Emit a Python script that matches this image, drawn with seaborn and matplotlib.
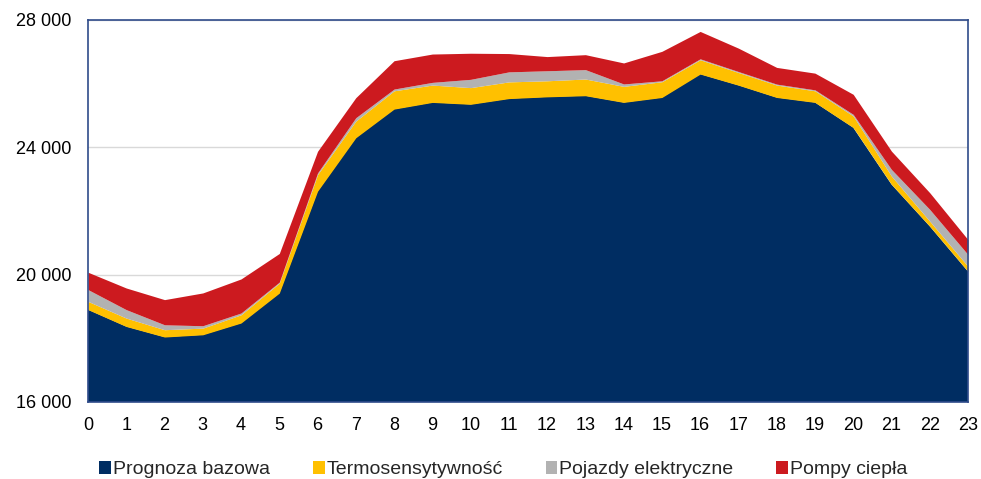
import numpy as np
import matplotlib
matplotlib.use("Agg")
import matplotlib.pyplot as plt
import seaborn as sns
from matplotlib.ticker import FuncFormatter

# --- DATA ---
hours = list(range(24))
prognoza_bazowa = [18900, 18370, 18040, 18110, 18480, 19420, 22620, 24300,
                   25200, 25410, 25350, 25530, 25585, 25620, 25410, 25565,
                   26300, 25950, 25565, 25410, 24620, 22835, 21520, 20100]
termosensytywnosc = [260, 265, 230, 210, 260, 315, 525, 525,
                     575, 545, 525, 525, 505, 525, 505, 495,
                     450, 400, 390, 365, 365, 260, 160, 160]
pojazdy = [370, 265, 155, 75, 55, 30, 50, 105,
           55, 85, 260, 315, 315, 295, 75, 30,
           30, 30, 30, 30, 50, 210, 370, 370]
pompy = [545, 680, 790, 1030, 1070, 900, 680, 630,
         890, 890, 820, 575, 445, 470, 660, 925,
         860, 735, 525, 525, 630, 575, 525, 470]

labels = ["Prognoza bazowa", "Termosensytywność", "Pojazdy elektryczne", "Pompy ciepła"]
colors = ["#002D62", "#FFC000", "#B2B2B2", "#CC1A1F"]

# --- STYLE ---
sns.set_style("white")
plt.rcParams['font.family'] = ['Liberation Sans', 'DejaVu Sans']

fig = plt.figure(figsize=(9.81, 4.79), dpi=100)
ax = fig.add_axes([0.0897, 0.1608, 0.8970, 0.7975])

ax.stackplot(hours, prognoza_bazowa, termosensytywnosc, pojazdy, pompy,
             labels=labels, colors=colors, linewidth=0)

ax.set_xlim(0, 23)
ax.set_ylim(16000, 28000)
ax.set_xticks(hours)
ax.set_yticks([16000, 20000, 24000, 28000])
ax.yaxis.set_major_formatter(FuncFormatter(lambda v, p: f"{int(v):,}".replace(",", " ")))
ax.tick_params(axis='both', length=0, labelsize=13, colors='#000000')
ax.tick_params(axis='x', pad=11)
ax.tick_params(axis='y', pad=12)

ax.grid(axis='y', color='#D9D9D9', linewidth=1)
ax.set_axisbelow(True)
for s in ax.spines.values():
    s.set_visible(True)
    s.set_color('#2F4B8A')
    s.set_linewidth(1.2)

handles, lbls = ax.get_legend_handles_labels()
fig.legend(handles, lbls, loc='lower center', bbox_to_anchor=(0.513, -0.035), ncol=4,
           frameon=False, fontsize=14, handlelength=0.6, handleheight=0.6,
           handletextpad=0.1, columnspacing=2.2)

fig.savefig("out.png", dpi=100)
